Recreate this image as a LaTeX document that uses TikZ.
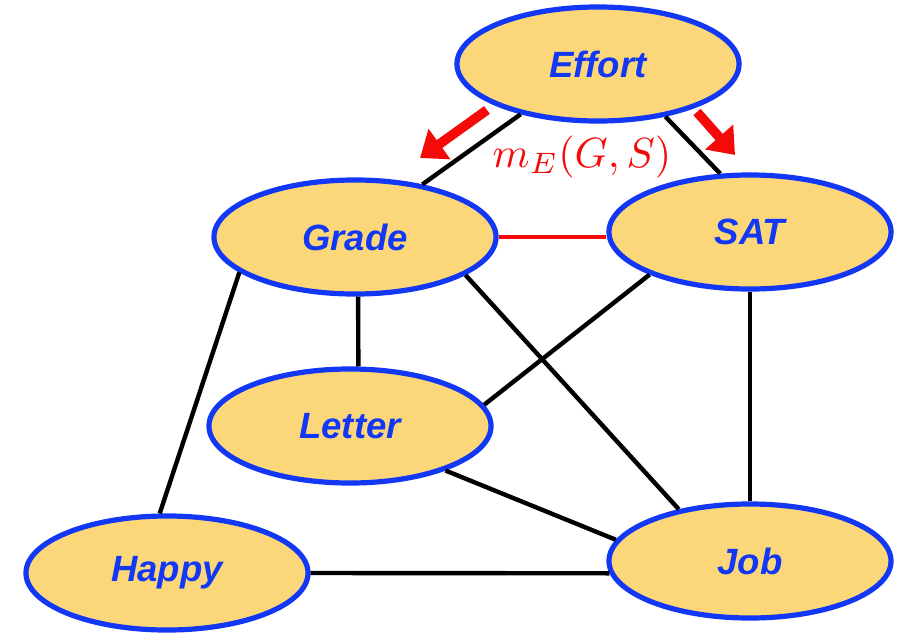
\documentclass[tikz,border=0pt]{standalone}
\usepackage{fontspec}
\setsansfont{Liberation Sans}
\usetikzlibrary{arrows.meta,shapes.geometric}
\definecolor{NetBlue}{HTML}{1238F5}
\definecolor{NetFill}{HTML}{FCD77A}
\definecolor{NetRed}{HTML}{F50A0A}
\tikzset{
  every node/.style={font=\sffamily},
  factor/.style={ellipse, draw=NetBlue, line width=1.3mm, fill=NetFill, inner sep=0pt,
    minimum width=7.05cm, minimum height=2.85cm, text=NetBlue,
    font=\sffamily\bfseries\itshape\fontsize{26}{30}\selectfont},
  link/.style={draw=black, line width=1.1mm},
  redlink/.style={draw=NetRed, line width=1.1mm},
  message/.style={-{Triangle[length=6mm,width=9mm]}, draw=NetRed, line width=2.4mm},
}

\begin{document}
\begin{tikzpicture}[x=0.025cm,y=-0.025cm]
  \useasboundingbox (0,0) rectangle (910,633);

  % Markov network nodes
  \node[factor] (effort) at (598,64) {Effort};
  \node[factor] (grade) at (355,237) {Grade};
  \node[factor] (sat) at (750,232) {SAT};
  \node[factor] (letter) at (350,426) {Letter};
  \node[factor] (happy) at (167,573) {Happy};
  \node[factor] (job) at (750,561) {Job};

  % Edges
  \draw[link] (effort.213) -- (grade.38);
  \draw[link] (effort.-38) -- (sat.117);
  \draw[link] (grade.273) -- (letter.82);
  \draw[link] (grade.197) -- (happy.97);
  \draw[link] (grade.-19) -- (job.144);
  \draw[link] (sat.203) -- (letter.9);
  \draw[link] (sat.south) -- (job.north);
  \draw[link] (letter.-25) -- (job.171);
  \draw[link] (happy.east) -- (job.185);
  \draw[redlink] (grade.east) -- (sat.west |- grade.east);

  % Messages from Effort
  \coordinate (msgG) at (487,110);
  \coordinate (msgS) at (697,112);
  \draw[message] (msgG) -- ++(-67,48);
  \draw[message] (msgS) -- ++(38,43);
  \node[text=NetRed, font=\normalsize, scale=3, transform shape] (mlabel) at (582,157) {$m_E(G,S)$};
\end{tikzpicture}
\end{document}
